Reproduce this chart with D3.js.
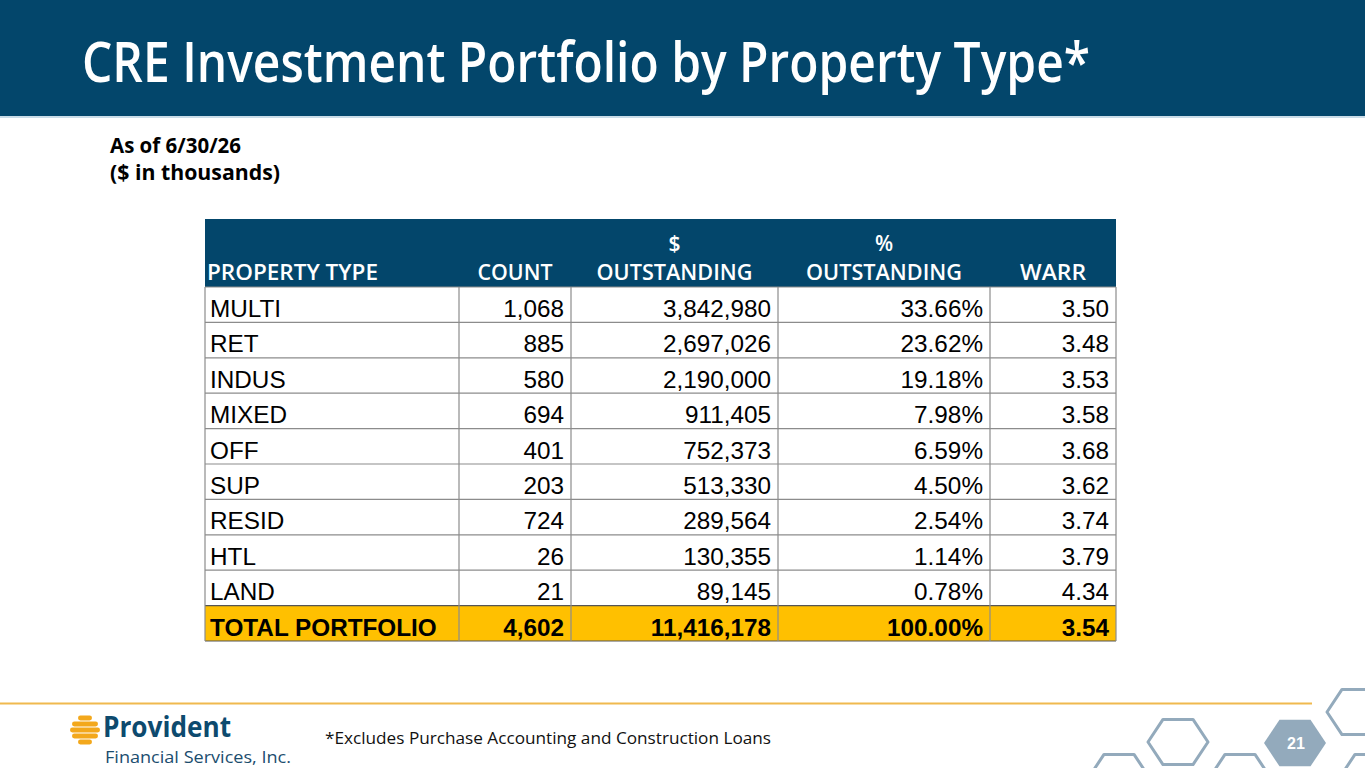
<!DOCTYPE html>
<html><head><meta charset="utf-8">
<script src="https://cdn.jsdelivr.net/npm/d3@7"></script>
<style>
html,body{margin:0;padding:0;background:#fff;}
svg{display:block;}
</style></head>
<body>
<script>
// ---- data ----
const propertyTypes = ["MULTI","RET","INDUS","MIXED","OFF","SUP","RESID","HTL","LAND","TOTAL PORTFOLIO"];
const counts = [1068, 885, 580, 694, 401, 203, 724, 26, 21, 4602];
const outstanding = [3842980, 2697026, 2190000, 911405, 752373, 513330, 289564, 130355, 89145, 11416178];
const pctOutstanding = [33.66, 23.62, 19.18, 7.98, 6.59, 4.50, 2.54, 1.14, 0.78, 100.00];
const warr = [3.50, 3.48, 3.53, 3.58, 3.68, 3.62, 3.74, 3.79, 4.34, 3.54];
const headerTop = ["", "", "$", "%", ""];
const headerBottom = ["PROPERTY TYPE", "COUNT", "OUTSTANDING", "OUTSTANDING", "WARR"];
const title = "CRE Investment Portfolio by Property Type*";
const subtitle = ["As of 6/30/26", "($ in thousands)"];
const footnote = "*Excludes Purchase Accounting and Construction Loans";
const pageNumber = "21";

const W = 1365, H = 768;
const navy = "#03466B";
const svg = d3.select("body").append("svg").attr("width", W).attr("height", H);

// header band
svg.append("rect").attr("x",0).attr("y",0).attr("width",W).attr("height",116).attr("fill",navy);
svg.append("rect").attr("x",0).attr("y",116).attr("width",W).attr("height",2).attr("fill","#C9DCE8");
svg.append("text").attr("x",82).attr("y",82)
  .attr("font-family","'Open Sans'").attr("font-weight",600).attr("font-size",56)
  .attr("fill","#fff").attr("textLength",1008).attr("lengthAdjust","spacingAndGlyphs").text(title);

// subtitle
svg.selectAll("text.sub").data(subtitle).join("text").attr("class","sub")
  .attr("x",110).attr("y",(d,i)=>153+i*27)
  .attr("font-family","'Open Sans'").attr("font-weight",700).attr("font-size",21)
  .attr("fill","#000").attr("textLength",(d,i)=>i===0?131:170).attr("lengthAdjust","spacingAndGlyphs")
  .text(d=>d);

// ---- table ----
const colKeys = ["type","count","out","pct","warr"];
const colEdges = [205, 459, 571, 778, 990, 1116];
const colX = d3.scaleOrdinal().domain(colKeys).range(colEdges.slice(0,5));
const colW = d3.scaleOrdinal().domain(colKeys).range(colEdges.slice(1).map((e,i)=>e-colEdges[i]));
const rowY = d3.scaleBand().domain(d3.range(propertyTypes.length)).range([287, 641]).padding(0);
const tableLeft = colEdges[0], tableRight = colEdges[5];

// header
const headerWidths = [171, 75, 156, 156, 66];
svg.append("rect").attr("x",tableLeft).attr("y",219).attr("width",tableRight-tableLeft).attr("height",68).attr("fill",navy);
const hdr = svg.append("g").attr("font-family","'Open Sans'").attr("font-weight",600).attr("font-size",21).attr("fill","#fff");
colKeys.forEach((k,i)=>{
  const left = i===0;
  const x = left ? colX(k)+2 : colX(k)+colW(k)/2;
  hdr.append("text").attr("x",x).attr("y",280).attr("text-anchor",left?"start":"middle")
    .attr("textLength",headerWidths[i]).attr("lengthAdjust","spacingAndGlyphs").text(headerBottom[i]);
  if (headerTop[i]) hdr.append("text").attr("x",x).attr("y",251).attr("text-anchor","middle").text(headerTop[i]);
});

// body
const fmtInt = d3.format(",");
const fmt2 = d3.format(".2f");
const rows = propertyTypes.map((t,i)=>({
  i, total: i===propertyTypes.length-1,
  cells: [t, fmtInt(counts[i]), fmtInt(outstanding[i]), fmt2(pctOutstanding[i])+"%", fmt2(warr[i])]
}));
const rg = svg.append("g").selectAll("g").data(rows).join("g");
rg.filter(d=>d.total).append("rect")
  .attr("x",tableLeft).attr("y",d=>rowY(d.i)).attr("width",tableRight-tableLeft).attr("height",rowY.bandwidth())
  .attr("fill","#FFC000");
rg.each(function(d){
  const g = d3.select(this);
  d.cells.forEach((c,j)=>{
    const k = colKeys[j];
    g.append("text")
      .attr("x", j===0 ? colX(k)+5 : colX(k)+colW(k)-7)
      .attr("y", rowY(d.i)+rowY.bandwidth()-5.5)
      .attr("text-anchor", j===0?"start":"end")
      .attr("font-family","'Liberation Sans', Arial, sans-serif")
      .attr("font-size",24.3)
      .attr("font-weight", d.total?700:400)
      .attr("fill","#000").text(c);
  });
});
// grid lines
const grid = svg.append("g").attr("stroke","#8c8c8c").attr("stroke-width",1.2);
d3.range(propertyTypes.length+1).forEach(i=>{
  const y = i<propertyTypes.length ? rowY(i) : rowY(i-1)+rowY.bandwidth();
  grid.append("line").attr("x1",tableLeft).attr("x2",tableRight).attr("y1",y).attr("y2",y)
    .attr("stroke", i>=propertyTypes.length-1 ? "#555" : "#8c8c8c");
});
colEdges.forEach(x=>{
  grid.append("line").attr("x1",x).attr("x2",x).attr("y1",287).attr("y2",641);
});

// ---- footer ----
svg.append("line").attr("x1",0).attr("x2",1312).attr("y1",703.5).attr("y2",703.5)
  .attr("stroke","#F0B94F").attr("stroke-width",2);
svg.append("text").attr("x",325).attr("y",744)
  .attr("font-family","'Open Sans'").attr("font-size",17).attr("fill","#111")
  .attr("textLength",446).attr("lengthAdjust","spacingAndGlyphs").text(footnote);

// logo
const logo = svg.append("g");
const hive = [[718,14],[724,26],[730,30],[736,26],[742,14]];
hive.forEach(([y,w])=>{
  logo.append("rect").attr("x",85-w/2).attr("y",y-2.4).attr("width",w).attr("height",4.8).attr("rx",2.4).attr("fill","#F3A81C");
});
logo.append("text").attr("x",103).attr("y",737)
  .attr("font-family","'Open Sans'").attr("font-weight",700).attr("font-size",28).attr("fill","#0D4A6E")
  .attr("textLength",128).attr("lengthAdjust","spacingAndGlyphs").text("Provident");
logo.append("text").attr("x",105).attr("y",763)
  .attr("font-family","'Open Sans'").attr("font-size",16.5).attr("fill","#1B4D6E")
  .attr("textLength",186).attr("lengthAdjust","spacingAndGlyphs").text("Financial Services, Inc.");

// hexagons
const hexes = [
  {cx:1119, cy:777, fill:false},
  {cx:1178, cy:742, fill:false},
  {cx:1240, cy:777, fill:false},
  {cx:1295, cy:743, fill:true},
  {cx:1357, cy:712, fill:false},
  {cx:1370, cy:777, fill:false}
];
const hexPath = (cx,cy,r)=>{
  const pts = d3.range(6).map(k=>{const a=Math.PI/3*k; return [cx+r*Math.cos(a), cy+r*0.87*Math.sin(a)];});
  return "M"+pts.map(p=>p.join(",")).join("L")+"Z";
};
svg.append("g").selectAll("path").data(hexes).join("path")
  .attr("d",d=>hexPath(d.cx,d.cy,d.fill?31:30))
  .attr("fill",d=>d.fill?"#93AABC":"none")
  .attr("stroke","#93AABC").attr("stroke-width",d=>d.fill?0:3).attr("stroke-linejoin","round");
svg.append("text").attr("x",1296).attr("y",749).attr("text-anchor","middle")
  .attr("font-family","'Liberation Sans', Arial").attr("font-weight",700).attr("font-size",16).attr("fill","#fff").text(pageNumber);
</script>
</body></html>
